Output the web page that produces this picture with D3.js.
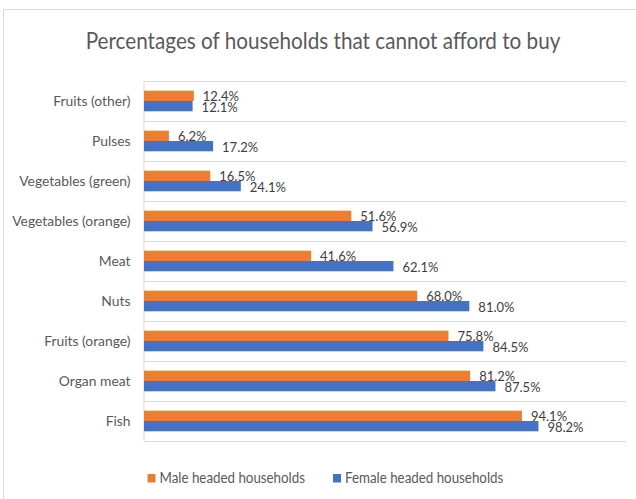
<!DOCTYPE html>
<html>
<head>
<meta charset="utf-8">
<script src="https://cdn.jsdelivr.net/npm/d3@7"></script>
<style>
  html, body { margin: 0; padding: 0; background: #fff; }
  svg { display: block; }
  text { font-family: Lato, "Open Sans", sans-serif; }
</style>
</head>
<body>
<svg id="chart" width="636" height="499"></svg>
<script>
// Food groups, top to bottom
const categories = [
  "Fruits (other)", "Pulses", "Vegetables (green)", "Vegetables (orange)",
  "Meat", "Nuts", "Fruits (orange)", "Organ meat", "Fish"
];
// Share of households (%) that cannot afford each food group
const maleHeaded   = [12.4, 6.2, 16.5, 51.6, 41.6, 68.0, 75.8, 81.2, 94.1];
const femaleHeaded = [12.1, 17.2, 24.1, 56.9, 62.1, 81.0, 84.5, 87.5, 98.2];
const seriesNames  = ["Male headed households", "Female headed households"];
const xDomainMax   = 120;

const colors = ["#ED7D31", "#4472C4"];
const gridColor = "#D9D9D9";

const svg = d3.select("#chart");
const W = 636, H = 499;

// chart frame
svg.append("rect")
  .attr("x", 3.5).attr("y", 9.5)
  .attr("width", W + 10).attr("height", H + 10)
  .attr("fill", "#fff").attr("stroke", gridColor).attr("stroke-width", 1);

// title
const titleSx = 0.9;
svg.append("text")
  .attr("transform", `translate(323,49) scale(${titleSx},1)`)
  .attr("text-anchor", "middle")
  .attr("font-size", 23)
  .attr("fill", "#595959")
  .text("Percentages of households that cannot afford to buy");

const plot = { left: 144, right: 626, top: 81, bottom: 441 };

const x = d3.scaleLinear().domain([0, xDomainMax]).range([plot.left, plot.right]);
const y = d3.scaleBand().domain(categories).range([plot.top, plot.bottom]).paddingInner(0).paddingOuter(0);
const ySub = d3.scaleBand().domain([0, 1]).range([0, y.bandwidth()]).paddingInner(0).paddingOuter(0.94);

// horizontal gridlines at category boundaries
const bounds = categories.map(c => y(c)).concat([plot.bottom]);
svg.append("g").selectAll("line").data(bounds).join("line")
  .attr("x1", plot.left).attr("x2", plot.right)
  .attr("y1", d => Math.round(d) + 0.5).attr("y2", d => Math.round(d) + 0.5)
  .attr("stroke", gridColor).attr("stroke-width", 1);

// category axis
const yAxis = svg.append("g")
  .attr("transform", `translate(${plot.left - 0.5},0)`)
  .call(d3.axisLeft(y).tickSize(0).tickPadding(13));
yAxis.select(".domain").attr("stroke", gridColor);
const catSx = 0.99;
yAxis.selectAll(".tick text")
  .attr("font-size", 14)
  .attr("font-family", "Lato, sans-serif")
  .attr("fill", "#595959")
  .attr("dy", "0.35em")
  .attr("x", null)
  .attr("transform", `translate(-13,0) scale(${catSx},1)`);

// bars
const rows = categories.map((c, i) => ({ cat: c, vals: [maleHeaded[i], femaleHeaded[i]] }));
const groups = svg.append("g").selectAll("g").data(rows).join("g")
  .attr("transform", d => `translate(0,${y(d.cat)})`);

groups.selectAll("rect").data(d => d.vals).join("rect")
  .attr("x", x(0))
  .attr("y", (d, j) => ySub(j))
  .attr("width", d => x(d) - x(0))
  .attr("height", ySub.bandwidth())
  .attr("fill", (d, j) => colors[j]);

// value labels at bar ends
groups.selectAll("text").data(d => d.vals).join("text")
  .attr("x", d => x(d) + 9)
  .attr("y", (d, j) => ySub(j) + ySub.bandwidth() / 2 + 1)
  .attr("dy", "0.35em")
  .attr("font-size", 13)
  .attr("fill", "#404040")
  .text(d => d.toFixed(1) + "%");

// legend
const legend = svg.append("g");
const legendPos = [147.5, 333];
const legendSx = 0.92;
seriesNames.forEach((name, i) => {
  legend.append("rect")
    .attr("x", legendPos[i]).attr("y", 474)
    .attr("width", 8).attr("height", 8.5)
    .attr("fill", colors[i]);
  legend.append("text")
    .attr("transform", `translate(${legendPos[i] + 12},483) scale(${legendSx},1)`)
    .attr("font-size", 14.5)
    .attr("fill", "#595959")
    .text(name);
});
</script>
</body>
</html>
